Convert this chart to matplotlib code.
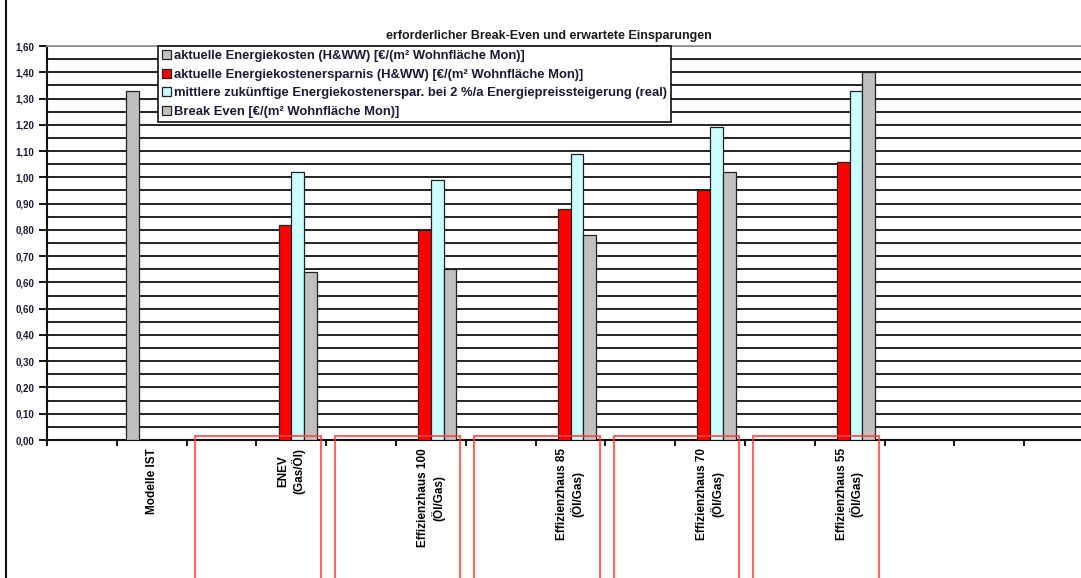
import matplotlib
matplotlib.use("Agg")
import matplotlib.pyplot as plt
import numpy as np
from matplotlib.patches import Rectangle
from matplotlib.transforms import blended_transform_factory

plt.rcParams["font.family"] = ["Liberation Sans", "DejaVu Sans"]

# 15 category slots, only every second one carries a variant
categories = ["", "Modelle IST", "", "ENEV\n(Gas/Öl)", "",
              "Effizienzhaus 100\n(Öl/Gas)", "", "Effizienzhaus 85\n(Öl/Gas)", "",
              "Effizienzhaus 70\n(Öl/Gas)", "", "Effizienzhaus 55\n(Öl/Gas)", "",
              "", ""]
nan = np.nan
energiekosten = [nan, 1.33, nan, nan, nan, nan, nan, nan, nan, nan, nan, nan, nan, nan, nan]
ersparnis = [nan, nan, nan, 0.82, nan, 0.80, nan, 0.88, nan, 0.95, nan, 1.06, nan, nan, nan]
zukuenftig = [nan, nan, nan, 1.02, nan, 0.99, nan, 1.09, nan, 1.19, nan, 1.33, nan, nan, nan]
break_even = [nan, nan, nan, 0.64, nan, 0.65, nan, 0.78, nan, 1.02, nan, 1.40, nan, nan, nan]

series_labels = [
    "aktuelle Energiekosten (H&WW) [€/(m² Wohnfläche Mon)]",
    "aktuelle Energiekostenersparnis (H&WW) [€/(m² Wohnfläche Mon)]",
    "mittlere zukünftige Energiekostenerspar. bei 2 %/a Energiepreissteigerung (real)",
    "Break Even [€/(m² Wohnfläche Mon)]",
]
series_colors = ["#c0c0c0", "#ff0000", "#ccffff", "#c0c0c0"]

# y tick labels as printed in the scan (two "0,60", no "1,50")
ytick_labels = ["0,00", "0,10", "0,20", "0,30", "0,40", "0,60", "0,60", "0,70",
                "0,80", "0,90", "1,00", "1,10", "1,20", "1,30", "1,40", "1,60"]

W, H = 1081, 578
fig = plt.figure(figsize=(W / 100, H / 100), dpi=100)
ax = fig.add_axes([47 / W, (H - 440) / H, 1047 / W, 394 / H])

n = len(categories)
x = np.arange(n) + 0.5
bw = 0.183
for i, (vals, col, lab) in enumerate(zip([energiekosten, ersparnis, zukuenftig, break_even],
                                         series_colors, series_labels)):
    ax.bar(x + (i - 1.5) * bw, vals, width=bw, color=col, edgecolor="#222222",
           linewidth=0.9, label=lab, zorder=3)

ax.set_xlim(0, n)
ax.set_ylim(0, 1.5)

ax.set_yticks(np.arange(16) * 0.1)
ax.set_yticklabels(ytick_labels, fontsize=7, fontweight="bold", color="#1a1a33")
ax.set_yticks(np.arange(1, 30, 2) * 0.05, minor=True)
ax.grid(True, which="both", axis="y", color="#111111", linewidth=1.3, zorder=1)
ax.tick_params(axis="y", which="major", length=6, width=1.3, pad=3)
ax.tick_params(axis="y", which="minor", length=0)

ax.set_xticks(np.arange(n + 1))
ax.set_xticklabels([])
ax.set_xticks(x, minor=True)
ax.set_xticklabels(categories, minor=True, rotation=90, fontsize=8.5,
                   fontweight="bold", va="top", ha="center", multialignment="center")
ax.tick_params(axis="x", which="major", length=4, width=1.3)
ax.tick_params(axis="x", which="minor", length=0, pad=6)

for s in ("left", "bottom"):
    ax.spines[s].set_linewidth(1.5)
    ax.spines[s].set_color("#111111")
ax.spines["top"].set_color("#999999")
ax.spines["top"].set_linewidth(1.3)
ax.spines["right"].set_visible(False)

leg = ax.legend(loc="upper left", bbox_to_anchor=(158 / W, 1 - 46 / H),
                bbox_transform=fig.transFigure,
                prop={"size": 9.4, "weight": "bold"}, frameon=True,
                fancybox=False, framealpha=1, edgecolor="#111111",
                borderpad=0.3, labelspacing=0.5, handlelength=0.7,
                handleheight=0.7, handletextpad=0.25, borderaxespad=0)
leg.get_frame().set_linewidth(1.2)
leg.set_zorder(5)
for t in leg.get_texts():
    t.set_color("#1a1a33")

fig.text(549 / W, 1 - 36 / H, "erforderlicher Break-Even und erwartete Einsparungen",
         ha="center", va="center", fontsize=9, fontweight="bold", color="#1a1a1a")

# red marker boxes around the variants, running off the bottom of the page
trans = blended_transform_factory(ax.transData, fig.transFigure)
for k in (3, 5, 7, 9, 11):
    ax.add_patch(Rectangle((k - 0.88, -0.05), 1.8, 0.05 + (H - 436) / H,
                           transform=trans, fill=False, edgecolor="#ff4040",
                           linewidth=1.5, alpha=0.8, clip_on=False, zorder=6))

# outer frame line on the left
fig.add_artist(plt.Line2D([6 / W, 6 / W], [0, 1], transform=fig.transFigure,
                          color="#111111", linewidth=1.5))

fig.savefig("out.png", dpi=100)
